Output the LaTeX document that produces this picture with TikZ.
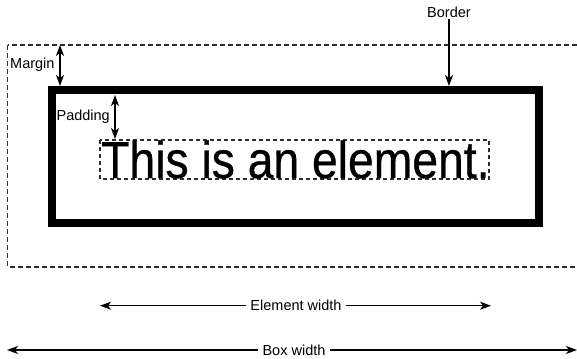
\documentclass[tikz,border=0pt]{standalone}
\usepackage{fontspec}
\setmainfont{Liberation Sans}
\newfontfamily\condfont[FakeStretch=0.89,FakeBold=0.6]{Liberation Sans}
\usepackage{xcolor}
\definecolor{dashgray}{RGB}{45,45,45}
\usetikzlibrary{arrows.meta}
\tikzset{
  >={Stealth[length=11pt,width=8pt,inset=3pt]},
  lbl/.style={font=\fontsize{14.5}{16}\selectfont,inner sep=1pt},
  dimline/.style={line width=1.3pt},
  dashbox/.style={draw=dashgray,dash pattern=on 5pt off 3pt,line width=1.2pt},
}
\begin{document}
\begin{tikzpicture}[x=1pt,y=-1pt]
\useasboundingbox (0,0) rectangle (577,358);
\clip (0,0) rectangle (577,358);
% ---- margin: dashed outer box ----
\draw[dashbox] (7.5,45) rectangle (590,267);
% ---- border ----
\draw[line width=8pt] (52,90) rectangle (539,223);
% ---- element with its dashed content box ----
\draw[dashbox,dash pattern=on 4pt off 3pt] (100,140) rectangle (489,179);
\node[font=\condfont\fontsize{52}{52}\selectfont,anchor=base west,inner sep=0pt] (elem) at (101,178) {This is an element.};
% ---- labels with their arrows ----
\node[lbl] (border) at (449,12.5) {Border};
\coordinate (bordertip) at (449,86);
\draw[dimline,->] (border) -- (bordertip);
\node[lbl,anchor=west] (margin) at (9,65) {Margin};
\coordinate (mtop) at (60,45);
\coordinate (mbot) at (60,86);
\draw[dimline,<->] (mtop) -- (mbot);
\node[lbl,anchor=east] (padding) at (111,117) {Padding};
\coordinate (ptop) at (115,95);
\coordinate (pbot) at (115,139);
\draw[dimline,<->] (ptop) -- (pbot);
% ---- widths ----
\node[lbl,fill=white,inner xsep=4pt] (ewidth) at (296,305.7) {Element width};
\coordinate (ewl) at (100,305.7);
\coordinate (ewr) at (491,305.7);
\draw[dimline,->] (ewidth) -- (ewl);
\draw[dimline,->] (ewidth) -- (ewr);
\node[lbl,fill=white,inner xsep=4pt] (bwidth) at (294,350) {Box width};
\coordinate (bwl) at (7,350);
\coordinate (bwr) at (577,350);
\draw[dimline,->] (bwidth) -- (bwl);
\draw[dimline,->] (bwidth) -- (bwr);
\end{tikzpicture}
\end{document}
